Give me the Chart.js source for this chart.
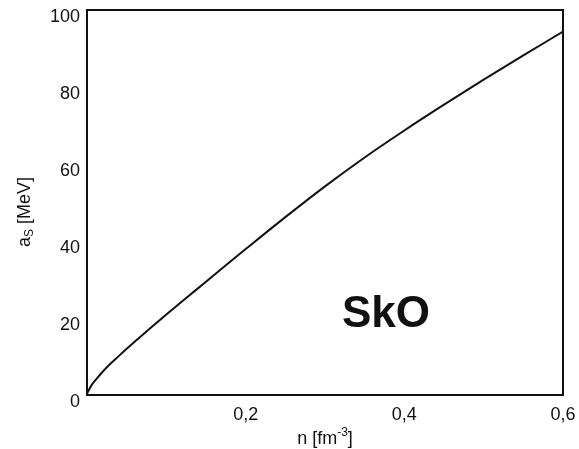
<!DOCTYPE html>
<html>
<head>
<meta charset="utf-8">
<script src="https://cdn.jsdelivr.net/npm/chart.js@4/dist/chart.umd.min.js"></script>
<style>
  html, body { margin: 0; padding: 0; background: #fff; }
  #wrap { width: 579px; height: 449px; }
</style>
</head>
<body>
<div id="wrap"><canvas id="chart" width="579" height="449"></canvas></div>
<script>
// Symmetry energy a_S versus nucleon density n for the SkO Skyrme force
const density = [0, 0.005, 0.0125, 0.025, 0.04, 0.06, 0.08, 0.1, 0.125, 0.15, 0.175,
                 0.2, 0.25, 0.3, 0.35, 0.4, 0.45, 0.5, 0.55, 0.6];
const symmetryEnergy = [0.3, 2.3, 4.3, 7.2, 10.1, 13.8, 17.4, 20.9, 25.2, 29.4, 33.7,
                        37.9, 46.2, 54.2, 61.7, 68.7, 75.4, 81.9, 88.2, 94.4];
const xTickValues = [0.2, 0.4, 0.6];
const xTickLabels = ['0,2', '0,4', '0,6'];
const yTickValues = [0, 20, 40, 60, 80, 100];
const modelName = 'SkO';
const xTitleParts = ['n [fm', '-3', ']'];
const yTitleParts = ['a', 'S', ' [MeV]'];

const FONT = '"Liberation Sans", Arial, Helvetica, sans-serif';
const INK = '#111';

// Frame around the plotting area
const frame = {
  id: 'frame',
  afterDatasetsDraw(chart) {
    const a = chart.chartArea, ctx = chart.ctx;
    ctx.save();
    ctx.strokeStyle = INK;
    ctx.lineWidth = 2;
    ctx.strokeRect(a.left, a.top, a.right - a.left, a.bottom - a.top);
    ctx.restore();
  }
};

// Axis titles with super/subscripts, and the model name
const annotations = {
  id: 'annotations',
  afterDraw(chart) {
    const ctx = chart.ctx, a = chart.chartArea;
    ctx.save();
    ctx.fillStyle = INK;
    ctx.textBaseline = 'alphabetic';
    ctx.textAlign = 'left';

    const big = '18px ' + FONT, small = '12px ' + FONT;

    // x title: n [fm^-3]
    ctx.font = big; const w1 = ctx.measureText(xTitleParts[0]).width;
    const w3 = ctx.measureText(xTitleParts[2]).width;
    ctx.font = small; const w2 = ctx.measureText(xTitleParts[1]).width;
    let x = (a.left + a.right) / 2 - (w1 + w2 + w3) / 2;
    const y = 444;
    ctx.font = big; ctx.fillText(xTitleParts[0], x, y); x += w1;
    ctx.font = small; ctx.fillText(xTitleParts[1], x, y - 8); x += w2;
    ctx.font = big; ctx.fillText(xTitleParts[2], x, y);

    // y title: a_S [MeV], rotated
    ctx.save();
    ctx.translate(30, 212);
    ctx.rotate(-Math.PI / 2);
    ctx.font = big; const v1 = ctx.measureText(yTitleParts[0]).width;
    const v3 = ctx.measureText(yTitleParts[2]).width;
    ctx.font = small; const v2 = ctx.measureText(yTitleParts[1]).width;
    let t = -(v1 + v2 + v3) / 2;
    ctx.font = big; ctx.fillText(yTitleParts[0], t, 0); t += v1;
    ctx.font = small; ctx.fillText(yTitleParts[1], t, 3); t += v2;
    ctx.font = big; ctx.fillText(yTitleParts[2], t, 0);
    ctx.restore();

    // model label
    ctx.font = 'bold 44px ' + FONT;
    ctx.textAlign = 'center';
    ctx.fillText(modelName, 386, 327);
    ctx.restore();
  }
};

new Chart(document.getElementById('chart'), {
  type: 'line',
  data: {
    datasets: [{
      data: density.map((n, i) => ({ x: n, y: symmetryEnergy[i] })),
      borderColor: INK,
      borderWidth: 2,
      pointRadius: 0,
      fill: false,
      cubicInterpolationMode: 'monotone'
    }]
  },
  options: {
    responsive: false,
    animation: false,
    devicePixelRatio: 1,
    layout: { padding: { left: 0, right: 16, top: 10, bottom: 0 } },
    plugins: { legend: { display: false }, tooltip: { enabled: false } },
    scales: {
      x: {
        type: 'linear',
        min: 0, max: 0.6,
        grid: { display: false, drawTicks: false },
        border: { display: false },
        afterBuildTicks(scale) {
          scale.ticks = xTickValues.map(v => ({ value: v }));
        },
        ticks: {
          padding: 9,
          color: INK,
          font: { family: FONT, size: 18 },
          maxRotation: 0,
          autoSkip: false,
          callback: (v) => {
            const i = xTickValues.findIndex(t => Math.abs(t - v) < 1e-9);
            return i >= 0 ? xTickLabels[i] : '';
          }
        },
        afterFit(scale) {
          scale.height = 54;
          scale.paddingLeft = 0;
          scale.paddingRight = 0;
        }
      },
      y: {
        min: 0, max: 100,
        grid: { display: false, drawTicks: false },
        border: { display: false },
        afterBuildTicks(scale) {
          scale.ticks = yTickValues.map(v => ({ value: v }));
        },
        ticks: {
          padding: 7,
          labelOffset: 7,
          color: INK,
          font: { family: FONT, size: 18, lineHeight: 1 },
          autoSkip: false,
          callback: (v) => String(v)
        },
        afterFit(scale) {
          scale.width = 87;
          scale.paddingTop = 0;
          scale.paddingBottom = 0;
        }
      }
    }
  },
  plugins: [frame, annotations]
});
</script>
</body>
</html>
